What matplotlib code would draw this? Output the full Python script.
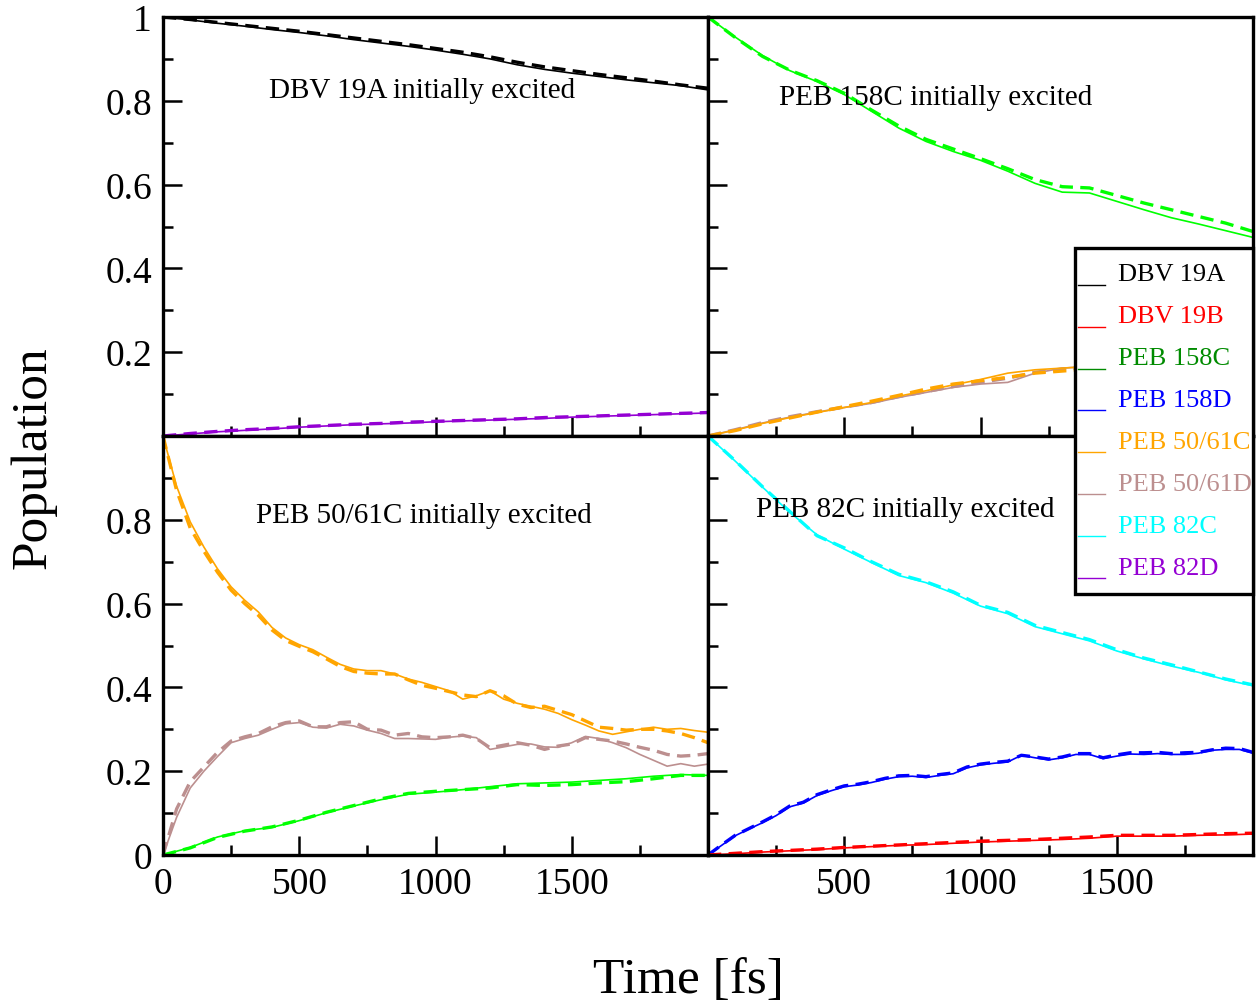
import numpy as np
import matplotlib
matplotlib.use("Agg")
import matplotlib.pyplot as plt
from matplotlib.lines import Line2D
from matplotlib.patches import Rectangle
from matplotlib.legend_handler import HandlerLine2D

plt.rcParams['font.family'] = ['Liberation Serif', 'DejaVu Serif']

# ---------------- data ----------------
time_c = [0, 100, 200, 300, 400, 500, 600, 700, 800, 900, 1000,
          1100, 1200, 1300, 1400, 1500, 1600, 1700, 1800, 1900, 2000]
time_f = [0, 50, 100, 150, 200, 250, 300, 350, 400, 450, 500, 550, 600, 650,
          700, 750, 800, 850, 900, 950, 1000, 1050, 1100, 1150, 1200, 1250,
          1300, 1350, 1400, 1450, 1500, 1550, 1600, 1650, 1700, 1750, 1800,
          1850, 1900, 1950, 2000]

# Panel 1: DBV 19A initially excited
p1_dbv19a_solid = [1.000, 0.993, 0.985, 0.978, 0.970, 0.963, 0.955, 0.946, 0.938, 0.930, 0.921,
                   0.911, 0.900, 0.886, 0.875, 0.866, 0.858, 0.850, 0.843, 0.836, 0.826]
p1_dbv19a_dash = [1.000, 0.994, 0.987, 0.980, 0.973, 0.966, 0.958, 0.950, 0.942, 0.934, 0.925,
                  0.916, 0.905, 0.892, 0.881, 0.872, 0.863, 0.855, 0.847, 0.838, 0.830]
p1_peb82d_solid = [0.000, 0.005, 0.010, 0.0135, 0.017, 0.021, 0.024, 0.027, 0.029, 0.031, 0.034,
                   0.036, 0.038, 0.040, 0.042, 0.045, 0.047, 0.049, 0.051, 0.053, 0.055]
p1_peb82d_dash = [0.000, 0.006, 0.011, 0.015, 0.018, 0.022, 0.025, 0.028, 0.030, 0.033, 0.035,
                  0.037, 0.039, 0.041, 0.044, 0.046, 0.048, 0.050, 0.052, 0.054, 0.056]

# Panel 2: PEB 158C initially excited
p2_peb158c_solid = [1.000, 0.952, 0.908, 0.872, 0.846, 0.815, 0.775, 0.735, 0.703, 0.679, 0.658,
                    0.632, 0.603, 0.582, 0.580, 0.560, 0.540, 0.521, 0.506, 0.490, 0.474]
p2_peb158c_dash = [1.000, 0.951, 0.906, 0.873, 0.848, 0.818, 0.778, 0.740, 0.708, 0.685, 0.662,
                   0.638, 0.612, 0.595, 0.592, 0.574, 0.556, 0.540, 0.524, 0.508, 0.488]
p2_peb5061c_solid = [0.000, 0.014, 0.030, 0.044, 0.056, 0.068, 0.080, 0.095, 0.108, 0.122, 0.135,
                     0.150, 0.158, 0.162, 0.166, 0.170, 0.174, 0.177, 0.180, 0.183, 0.186]
p2_peb5061c_dash = [0.000, 0.013, 0.029, 0.043, 0.057, 0.070, 0.083, 0.097, 0.112, 0.124, 0.132,
                    0.140, 0.150, 0.155, 0.160, 0.164, 0.168, 0.171, 0.174, 0.177, 0.180]
p2_peb5061d_solid = [0.000, 0.015, 0.031, 0.045, 0.057, 0.068, 0.078, 0.092, 0.104, 0.116, 0.124,
                     0.128, 0.150, 0.162, 0.166, 0.168, 0.172, 0.175, 0.178, 0.180, 0.182]
p2_peb5061d_dash = [0.000, 0.015, 0.032, 0.046, 0.058, 0.069, 0.080, 0.094, 0.106, 0.118, 0.128,
                    0.138, 0.152, 0.160, 0.164, 0.167, 0.170, 0.173, 0.176, 0.178, 0.180]

# Panel 3: PEB 50/61C initially excited
p3_peb5061c_solid = [1.000, 0.880, 0.795, 0.735, 0.683, 0.640, 0.608, 0.580, 0.543, 0.518, 0.502,
                     0.490, 0.472, 0.455, 0.444, 0.440, 0.440, 0.432, 0.420, 0.412, 0.402,
                     0.392, 0.372, 0.380, 0.392, 0.372, 0.362, 0.355, 0.348, 0.338, 0.323,
                     0.310, 0.296, 0.288, 0.294, 0.300, 0.305, 0.300, 0.302, 0.297, 0.293]
p3_peb5061c_dash = [1.000, 0.870, 0.780, 0.725, 0.675, 0.632, 0.600, 0.572, 0.537, 0.512, 0.498,
                    0.485, 0.468, 0.450, 0.438, 0.434, 0.432, 0.432, 0.418, 0.405, 0.398,
                    0.390, 0.382, 0.378, 0.392, 0.380, 0.360, 0.352, 0.355, 0.345, 0.335,
                    0.320, 0.305, 0.302, 0.298, 0.300, 0.300, 0.296, 0.290, 0.280, 0.268]
p3_peb5061d_solid = [0.000, 0.090, 0.160, 0.200, 0.235, 0.268, 0.278, 0.286, 0.300, 0.313, 0.316,
                     0.305, 0.303, 0.312, 0.308, 0.298, 0.290, 0.278, 0.278, 0.277, 0.276,
                     0.281, 0.284, 0.280, 0.252, 0.258, 0.264, 0.265, 0.258, 0.257, 0.268,
                     0.283, 0.278, 0.268, 0.256, 0.240, 0.226, 0.212, 0.218, 0.212, 0.217]
p3_peb5061d_dash = [0.000, 0.110, 0.175, 0.210, 0.245, 0.272, 0.282, 0.290, 0.306, 0.316, 0.320,
                    0.306, 0.306, 0.316, 0.318, 0.300, 0.298, 0.286, 0.290, 0.282, 0.280,
                    0.282, 0.286, 0.278, 0.256, 0.262, 0.268, 0.262, 0.252, 0.260, 0.265,
                    0.280, 0.276, 0.272, 0.265, 0.257, 0.250, 0.240, 0.236, 0.238, 0.242]
p3_peb158c_solid = [0.000, 0.018, 0.043, 0.058, 0.066, 0.082, 0.101, 0.117, 0.132, 0.145, 0.150,
                    0.156, 0.163, 0.170, 0.172, 0.174, 0.178, 0.182, 0.188, 0.192, 0.190]
p3_peb158c_dash = [0.000, 0.017, 0.042, 0.057, 0.067, 0.083, 0.102, 0.118, 0.134, 0.147, 0.152,
                   0.156, 0.160, 0.168, 0.166, 0.168, 0.172, 0.175, 0.182, 0.190, 0.190]

# Panel 4: PEB 82C initially excited
p4_peb82c_solid = [1.000, 0.940, 0.878, 0.818, 0.764, 0.730, 0.698, 0.667, 0.650, 0.625, 0.594,
                   0.576, 0.545, 0.528, 0.511, 0.487, 0.468, 0.451, 0.436, 0.418, 0.404]
p4_peb82c_dash = [1.000, 0.941, 0.879, 0.820, 0.762, 0.733, 0.700, 0.670, 0.652, 0.628, 0.596,
                  0.579, 0.548, 0.531, 0.514, 0.490, 0.470, 0.454, 0.437, 0.420, 0.406]
p4_peb158d_solid = [0.000, 0.023, 0.046, 0.062, 0.077, 0.094, 0.115, 0.124, 0.142, 0.153, 0.163,
                    0.167, 0.173, 0.181, 0.187, 0.188, 0.185, 0.190, 0.194, 0.208, 0.215,
                    0.219, 0.222, 0.238, 0.232, 0.227, 0.232, 0.240, 0.240, 0.230, 0.236,
                    0.241, 0.240, 0.242, 0.240, 0.240, 0.243, 0.250, 0.252, 0.252, 0.243]
p4_peb158d_dash = [0.000, 0.024, 0.047, 0.063, 0.079, 0.096, 0.117, 0.126, 0.144, 0.155, 0.165,
                   0.169, 0.175, 0.183, 0.189, 0.190, 0.187, 0.192, 0.196, 0.210, 0.217,
                   0.221, 0.224, 0.238, 0.234, 0.229, 0.234, 0.242, 0.242, 0.232, 0.239,
                   0.244, 0.244, 0.245, 0.242, 0.244, 0.245, 0.251, 0.255, 0.254, 0.245]
p4_dbv19b_solid = [0.000, 0.003, 0.007, 0.010, 0.013, 0.017, 0.020, 0.023, 0.025, 0.028, 0.031,
                   0.033, 0.035, 0.037, 0.040, 0.045, 0.045, 0.045, 0.047, 0.048, 0.050]
p4_dbv19b_dash = [0.000, 0.004, 0.008, 0.011, 0.014, 0.018, 0.021, 0.024, 0.027, 0.030, 0.033,
                  0.035, 0.037, 0.040, 0.043, 0.047, 0.047, 0.047, 0.049, 0.051, 0.052]

legend_labels = ['DBV 19A', 'DBV 19B', 'PEB 158C', 'PEB 158D',
                 'PEB 50/61C', 'PEB 50/61D', 'PEB 82C', 'PEB 82D']
legend_colors = ['#000000', '#ff0000', '#008b00', '#0000ff',
                 '#ffa500', '#bc8f8f', '#00ffff', '#9400d3']
panel_titles = ['DBV 19A initially excited', 'PEB 158C initially excited',
                'PEB 50/61C initially excited', 'PEB 82C initially excited']

LIME = '#00ff00'
BLACK = '#000000'
RED = '#ff0000'
BLUE = '#0000ff'
ORANGE = '#ffa500'
BROWN = '#bc8f8f'
CYAN = '#00ffff'
VIOLET = '#9400d3'

# ---------------- figure ----------------
fig = plt.figure(figsize=(12.57, 10.04), dpi=100)
W, H = 1257.0, 1004.0
x0, xm, x1 = 163 / W, 708 / W, 1253 / W
yb, ym, yt = 1 - 856 / H, 1 - 437 / H, 1 - 19 / H
aw = xm - x0
ah = ym - yb

ax_tl = fig.add_axes([x0, ym, aw, ah])
ax_tr = fig.add_axes([xm, ym, x1 - xm, ah])
ax_bl = fig.add_axes([x0, yb, aw, ah])
ax_br = fig.add_axes([xm, yb, x1 - xm, ah])

SOLID_LW = 1.2
DASH_LW = 2.4
DASHES = (4.0, 2.2)


def pair(ax, t, solid, dash, color):
    ax.plot(t, dash, color=color, lw=DASH_LW, dashes=DASHES, solid_capstyle='butt')
    ax.plot(t, solid, color=color, lw=SOLID_LW)


pair(ax_tl, time_c, p1_dbv19a_solid, p1_dbv19a_dash, BLACK)
pair(ax_tl, time_c, p1_peb82d_solid, p1_peb82d_dash, VIOLET)

pair(ax_tr, time_c, p2_peb158c_solid, p2_peb158c_dash, LIME)
pair(ax_tr, time_c, p2_peb5061d_solid, p2_peb5061d_dash, BROWN)
pair(ax_tr, time_c, p2_peb5061c_solid, p2_peb5061c_dash, ORANGE)

pair(ax_bl, time_f, p3_peb5061c_solid, p3_peb5061c_dash, ORANGE)
pair(ax_bl, time_f, p3_peb5061d_solid, p3_peb5061d_dash, BROWN)
pair(ax_bl, time_c, p3_peb158c_solid, p3_peb158c_dash, LIME)

pair(ax_br, time_c, p4_peb82c_solid, p4_peb82c_dash, CYAN)
pair(ax_br, time_f, p4_peb158d_solid, p4_peb158d_dash, BLUE)
pair(ax_br, time_c, p4_dbv19b_solid, p4_dbv19b_dash, RED)

TICKFS = 27
for ax in (ax_tl, ax_tr, ax_bl, ax_br):
    ax.set_xlim(0, 2000)
    ax.set_ylim(0, 1)
    ax.set_xticks([0, 500, 1000, 1500, 2000])
    ax.set_xticks([250, 750, 1250, 1750], minor=True)
    ax.set_yticks([0, 0.2, 0.4, 0.6, 0.8, 1.0])
    ax.set_yticks([0.1, 0.3, 0.5, 0.7, 0.9], minor=True)
    ax.tick_params(which='both', direction='in', top=False, right=False,
                   labelsize=TICKFS, width=1.8, pad=8)
    ax.tick_params(which='major', length=14)
    ax.tick_params(which='minor', length=7)
    for s in ax.spines.values():
        s.set_linewidth(2.4)
    ax.set_xticklabels([])
    ax.set_yticklabels([])

ax_tl.set_yticklabels(['', '0.2', '0.4', '0.6', '0.8', '1'])
ax_bl.set_yticklabels(['0', '0.2', '0.4', '0.6', '0.8', ''])
ax_bl.set_xticklabels(['0', '500', '1000', '1500', ''])
ax_br.set_xticklabels(['', '500', '1000', '1500', ''])

ANNFS = 21
ax_tl.text(949, 0.810, panel_titles[0], ha='center', va='baseline', fontsize=ANNFS)
ax_tr.text(835, 0.792, panel_titles[1], ha='center', va='baseline', fontsize=ANNFS)
ax_bl.text(958, 0.795, panel_titles[2], ha='center', va='baseline', fontsize=ANNFS)
ax_br.text(725, 0.808, panel_titles[3], ha='center', va='baseline', fontsize=ANNFS)

fig.text(33 / W, 1 - 458 / H, 'Population', rotation=90, ha='center', va='center', fontsize=37)
fig.text(688 / W, 1 - 981 / H, 'Time [fs]', ha='center', va='center', fontsize=37)


class BaselineHandler(HandlerLine2D):
    def create_artists(self, legend, orig_handle, xdescent, ydescent,
                       width, height, fontsize, trans):
        arts = super().create_artists(legend, orig_handle, xdescent, ydescent,
                                      width, height, fontsize, trans)
        for a in arts:
            if isinstance(a, Line2D):
                yd = a.get_ydata()
                a.set_ydata(np.full_like(np.asarray(yd, dtype=float), -3.0))
        return arts


# legend box (drawn as a separate frame so its padding matches the original)
box = Rectangle((1075 / W, 1 - 595 / H), (1253 - 1075) / W, (595 - 249) / H,
                transform=fig.transFigure, facecolor='white', edgecolor='black',
                linewidth=2.4, zorder=4)
fig.add_artist(box)

handles = [Line2D([0], [0], color=c, lw=1.0) for c in legend_colors]
leg = fig.legend(handles, legend_labels, loc='upper left',
                 bbox_to_anchor=(1078 / W, 1 - 263 / H), bbox_transform=fig.transFigure,
                 fontsize=19, frameon=False, borderaxespad=0, borderpad=0,
                 handlelength=1.02, handletextpad=0.5, labelspacing=0.70,
                 handler_map={Line2D: BaselineHandler()})
leg.set_zorder(5)
for txt, c in zip(leg.get_texts(), legend_colors):
    txt.set_color(c)

fig.savefig('out.png', dpi=100)
